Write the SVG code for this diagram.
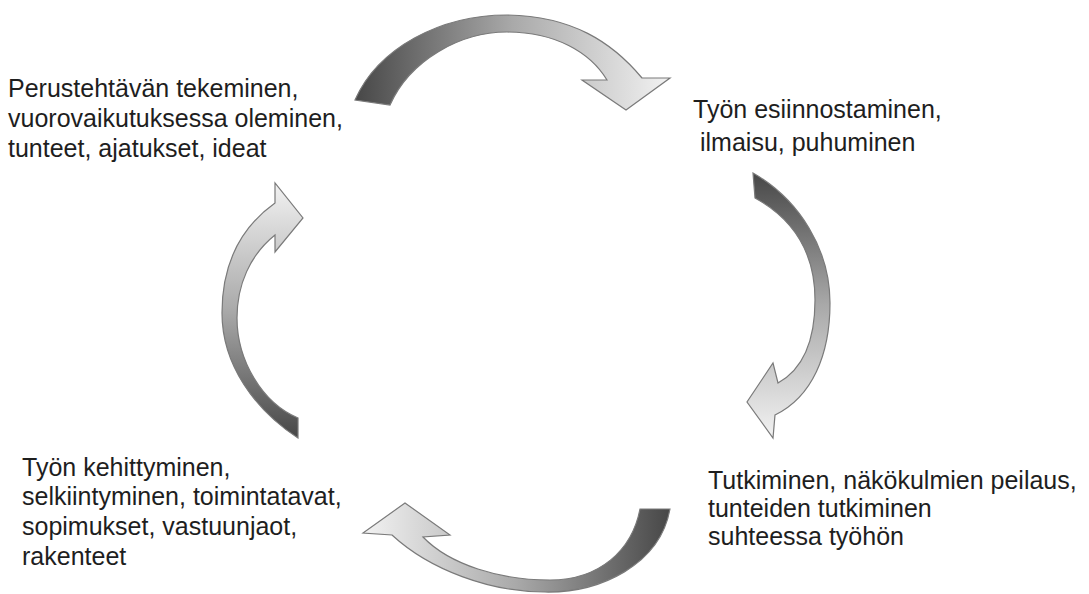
<svg xmlns="http://www.w3.org/2000/svg" width="1089" height="594" viewBox="0 0 1089 594">
<style>
.t{font-family:"Liberation Sans",Arial,sans-serif;font-size:25px;fill:#1e1e1e}
.arr{stroke:#7a7a7a;stroke-width:1.2;stroke-linejoin:miter}
</style>
<defs>
<linearGradient id="gTop" gradientUnits="userSpaceOnUse" x1="355" y1="0" x2="670" y2="0">
<stop offset="0" stop-color="#474747"/><stop offset="0.5" stop-color="#a9a9a9"/><stop offset="1" stop-color="#f2f2f2"/></linearGradient>
<linearGradient id="gRight" gradientUnits="userSpaceOnUse" x1="0" y1="173" x2="0" y2="438">
<stop offset="0" stop-color="#474747"/><stop offset="0.5" stop-color="#a9a9a9"/><stop offset="1" stop-color="#f2f2f2"/></linearGradient>
<linearGradient id="gBottom" gradientUnits="userSpaceOnUse" x1="670" y1="0" x2="363" y2="0">
<stop offset="0" stop-color="#474747"/><stop offset="0.5" stop-color="#a9a9a9"/><stop offset="1" stop-color="#f2f2f2"/></linearGradient>
<linearGradient id="gLeft" gradientUnits="userSpaceOnUse" x1="0" y1="438" x2="0" y2="183">
<stop offset="0" stop-color="#474747"/><stop offset="0.5" stop-color="#a9a9a9"/><stop offset="1" stop-color="#f2f2f2"/></linearGradient>
</defs>
<rect width="1089" height="594" fill="#ffffff"/>
<g id="connectors">
<path id="arrow-top" class="arr" fill="url(#gTop)" d="M355,100 C378,48 440,15 507,15 C572,16 612,42 642,78 L670,78 L626,110 L582,80 L607,80 C590,52 555,32 507,32 C460,32 410,60 390,105 Z"/>
<path id="arrow-right" class="arr" fill="url(#gRight)" d="M753,173 C800,200 830,250 830,303 C830,355 812,397 775,415 L773,438 L747,402 L773,363 L778,383 C805,368 815,338 815,300 C815,255 795,220 755,198 Z"/>
<path id="arrow-bottom" class="arr" fill="url(#gBottom)" d="M670,509 C660,565 600,593 545,592 C490,592 430,570 392,535 L363,533 L405,503 L450,535 L423,537 C450,565 500,580 550,580 C600,580 632,550 640,509 Z"/>
<path id="arrow-left" class="arr" fill="url(#gLeft)" d="M298,438 C255,410 222,365 222,313 C222,265 240,228 275,203 L275,183 L303,218 L275,252 L275,235 C250,255 237,285 237,318 C237,360 262,403 298,418 Z"/>
</g>
<g id="node-top-left">
<text class="t" x="8" y="97">Perustehtävän tekeminen,</text>
<text class="t" x="8" y="127">vuorovaikutuksessa oleminen,</text>
<text class="t" x="8" y="157">tunteet, ajatukset, ideat</text>
</g>
<g id="node-top-right">
<text class="t" x="693" y="118">Työn esiinnostaminen,</text>
<text class="t" x="700" y="151">ilmaisu, puhuminen</text>
</g>
<g id="node-bottom-right">
<text class="t" x="708" y="489">Tutkiminen, näkökulmien peilaus,</text>
<text class="t" x="708" y="517">tunteiden tutkiminen</text>
<text class="t" x="708" y="545">suhteessa työhön</text>
</g>
<g id="node-bottom-left">
<text class="t" x="22" y="476">Työn kehittyminen,</text>
<text class="t" x="22" y="505">selkiintyminen, toimintatavat,</text>
<text class="t" x="22" y="535">sopimukset, vastuunjaot,</text>
<text class="t" x="22" y="565">rakenteet</text>
</g>
</svg>
